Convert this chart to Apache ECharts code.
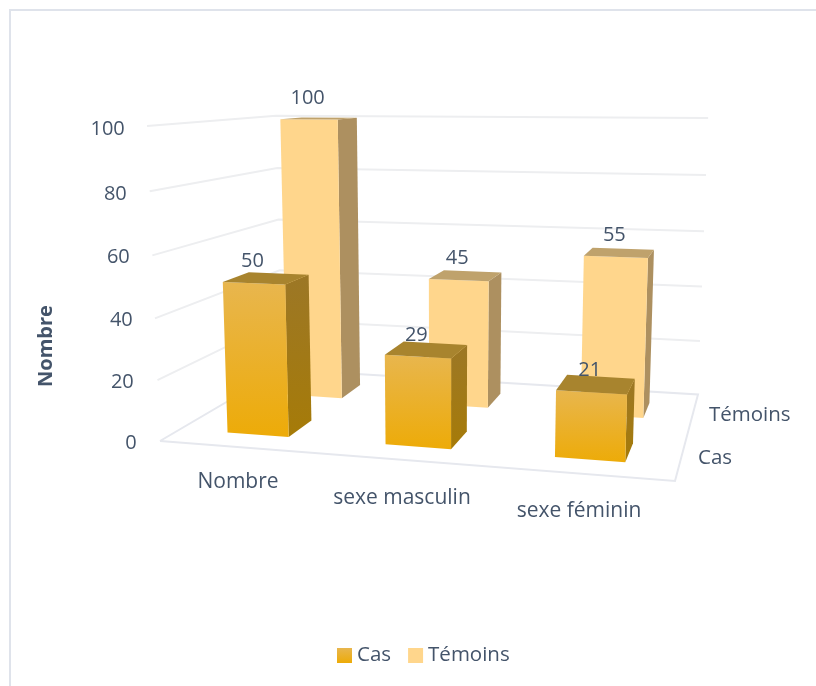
<!DOCTYPE html>
<html>
<head>
<meta charset="utf-8">
<style>html,body{margin:0;padding:0;background:#fff;overflow:hidden}#c{width:816px;height:686px}</style>
<script src="https://cdn.jsdelivr.net/npm/echarts@6/dist/echarts.min.js"></script>
</head>
<body>
<div id="c"></div>
<script>
const categories = ['Nombre', 'sexe masculin', 'sexe féminin'];
const casValues = [50, 29, 21];
const temoinsValues = [100, 45, 55];
const valueTicks = [0, 20, 40, 60, 80, 100];
const depthLabels = ['Cas', 'Témoins'];

const FONT = '"Open Sans"';
const INK = '#44546A';

// View of the 3D box: the floor's corners (front-left, front-right, back-right, back-left)
// and the vanishing point of the verticals with its strength
const floorCorners = [[160, 441], [675, 481], [698, 394.5], [282, 369.5]];
const verticalVP = [444, 7323];
const verticalK = -0.04377;

function floorMatrix(q) {
  const [[x0, y0], [x1, y1], [x2, y2], [x3, y3]] = q;
  const dx1 = x1 - x2, dx2 = x3 - x2, sx = x0 - x1 + x2 - x3;
  const dy1 = y1 - y2, dy2 = y3 - y2, sy = y0 - y1 + y2 - y3;
  const den = dx1 * dy2 - dx2 * dy1;
  const g = (sx * dy2 - dx2 * sy) / den, h = (dx1 * sy - sx * dy1) / den;
  return { a: x1 - x0 + g * x1, b: x3 - x0 + h * x3, c: x0, d: y1 - y0 + g * y1, e: y3 - y0 + h * y3, f: y0, g, h };
}
const M = floorMatrix(floorCorners);
function project(u, v, t) {
  const k = verticalK * t;
  const w = M.g * u + M.h * v + 1 + k;
  return [(M.a * u + M.b * v + M.c + k * verticalVP[0]) / w, (M.d * u + M.e * v + M.f + k * verticalVP[1]) / w];
}

const BAR_W = 0.395;   // share of a category band
const BAR_D = 0.2;     // share of the depth of the floor
const BAR_SHIFT = 0.0028;
const depthStart = { cas: 0.14, temoins: 0.64 };

const LG = (a, b) => new echarts.graphic.LinearGradient(0, 0, 0, 1, [{ offset: 0, color: a }, { offset: 1, color: b }]);
const palette = {
  cas: { front: ['#E8B64E', '#EDAB08'], side: ['#9C7726', '#A67B08'], top: '#A8842E' },
  temoins: { front: ['#FFD68C', '#FFD68C'], side: ['#AD9060', '#AD9060'], top: '#BFA26C' }
};

function barRenderer(key) {
  return function (params, api) {
    const cs = params.coordSys;
    const i = api.value(0), val = api.value(1);
    const p0 = api.coord([i, 0]), p1 = api.coord([i, val]);
    const band = api.size([1, 0])[0];
    const uc = (p0[0] - cs.x) / cs.width;
    const du = band / cs.width * BAR_W / 2;
    const t = (p0[1] - p1[1]) / cs.height;
    const v0 = depthStart[key], v1 = v0 + BAR_D;
    const P = project;
    const a = uc - du + BAR_SHIFT, b = uc + du + BAR_SHIFT;
    const col = palette[key];
    const poly = (pts, fill) => ({ type: 'polygon', shape: { points: pts }, style: { fill, stroke: null }, silent: true });
    const labelPos = P(uc, v0, t);
    return {
      type: 'group',
      children: [
        poly([P(b, v0, 0), P(b, v1, 0), P(b, v1, t), P(b, v0, t)], LG(col.side[0], col.side[1])),
        poly([P(a, v0, 0), P(b, v0, 0), P(b, v0, t), P(a, v0, t)], LG(col.front[0], col.front[1])),
        poly([P(a, v0, t), P(b, v0, t), P(b, v1, t), P(a, v1, t)], col.top),
        { type: 'text', z2: 10, silent: true, style: { x: labelPos[0], y: labelPos[1] - 21.5, text: String(val), fill: INK, font: '20px ' + FONT, align: 'center', verticalAlign: 'middle' } }
      ]
    };
  };
}

function wallRenderer(params, api) {
  const cs = params.coordSys;
  const val = api.value(1);
  const t = (api.coord([0, 0])[1] - api.coord([0, val])[1]) / cs.height;
  const pts = [project(0, 0, t), project(0, 1, t), project(1, 1, t)];
  if (val === 0) pts.push(project(1, 0, 0), project(0, 0, 0));
  return { type: 'polyline', shape: { points: pts }, style: { stroke: val === 0 ? '#E6E8EE' : '#EDEEF0', lineWidth: 2, fill: null }, silent: true };
}

const depthLabelPos = [[698, 458], [709, 415]];
function depthRenderer(params, api) {
  const idx = api.value(0);
  const pos = depthLabelPos[idx];
  return { type: 'text', silent: true, style: { x: pos[0], y: pos[1], text: depthLabels[idx], fill: INK, font: '20.5px ' + FONT, align: 'left', verticalAlign: 'middle' } };
}

const yRight = { 0: 0, 20: 3, 40: 4, 60: 7, 80: 10, 100: 12 };
const yTop = { 0: 2, 20: 6, 40: 8, 60: 8, 80: 6, 100: 2 };
const rich = {};
valueTicks.forEach(v => { rich['t' + v] = { fontFamily: FONT, fontSize: 20, color: INK, padding: [yTop[v], yRight[v], 0, 0] }; });

const xPad = [[0, 0, 0, 0], [16, 13, 0, 0], [29, 0, 0, 0]];
const xRich = {};
categories.forEach((c, i) => { xRich['c' + i] = { fontFamily: FONT, fontSize: 21, color: INK, padding: xPad[i] }; });

const chart = echarts.init(document.getElementById('c'), null, { renderer: 'canvas' });
chart.setOption({
  animation: false,
  backgroundColor: '#fff',
  graphic: [{ type: 'rect', silent: true, z: -1, shape: { x: 10, y: 10, width: 900, height: 800 }, style: { fill: null, stroke: '#DFE3EB', lineWidth: 2 } }],
  grid: { left: 152.75, top: 128, width: 511.5, height: 314, containLabel: false },
  xAxis: {
    type: 'category', data: categories,
    axisLine: { show: false }, axisTick: { show: false }, splitLine: { show: false },
    axisLabel: { margin: 30, interval: 0, hideOverlap: false, formatter: (v, i) => '{c' + i + '|' + v + '}', rich: xRich }
  },
  yAxis: {
    type: 'value', min: 0, max: 100, interval: 20,
    axisLine: { show: false }, axisTick: { show: false }, splitLine: { show: false },
    axisLabel: { margin: 16, formatter: v => '{t' + v + '|' + v + '}', rich },
    name: 'Nombre', nameLocation: 'middle', nameGap: 96, nameRotate: 90,
    nameTextStyle: { fontFamily: FONT, fontSize: 20, fontWeight: 'bold', color: INK, padding: [0, 122, 0, 0] }
  },
  legend: {
    bottom: 15, left: 332, icon: 'rect', itemWidth: 15, itemHeight: 15, itemGap: 17,
    textStyle: { fontFamily: FONT, fontSize: 20.5, color: INK },
    selectedMode: false,
    data: [
      { name: 'Cas', itemStyle: { color: LG('#E8B64E', '#EDAB08') } },
      { name: 'Témoins', itemStyle: { color: '#FFD68C' } }
    ]
  },
  series: [
    { type: 'custom', name: 'walls', z: 1, clip: false, silent: true, renderItem: wallRenderer, data: valueTicks.map(v => [0, v]), encode: { x: 0, y: 1 } },
    { type: 'custom', name: 'depth', z: 1, clip: false, silent: true, renderItem: depthRenderer, data: depthLabels.map((d, i) => [i, 0]), encode: { x: 0, y: 1 } },
    { type: 'custom', name: 'Témoins', z: 2, clip: false, silent: true, itemStyle: { color: '#FFD68C' }, renderItem: barRenderer('temoins'), data: temoinsValues.map((v, i) => [i, v]), encode: { x: 0, y: 1 } },
    { type: 'custom', name: 'Cas', z: 3, clip: false, silent: true, itemStyle: { color: '#EDAB08' }, renderItem: barRenderer('cas'), data: casValues.map((v, i) => [i, v]), encode: { x: 0, y: 1 } }
  ]
});
</script>
</body>
</html>
